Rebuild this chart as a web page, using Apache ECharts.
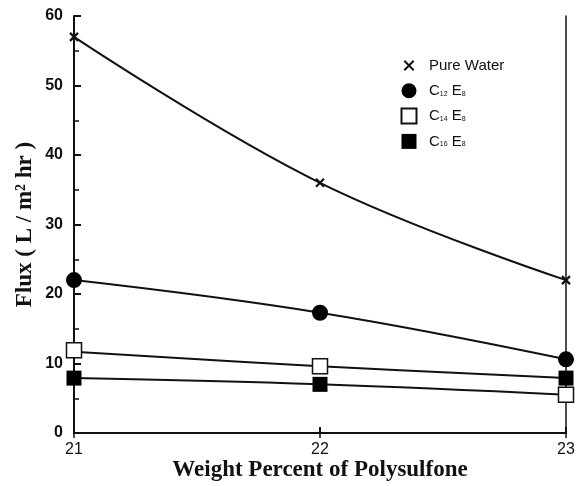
<!DOCTYPE html>
<html>
<head>
<meta charset="utf-8">
<script src="https://cdn.jsdelivr.net/npm/echarts@6/dist/echarts.min.js"></script>
<style>
  html, body { margin: 0; padding: 0; background: #fff; }
  #chart { width: 582px; height: 486px; }
</style>
</head>
<body>
<div id="chart"></div>
<script>
// Weight percent of polysulfone in the casting solution
const weightPercent = [21, 22, 23];

// Measured flux (L / m^2 hr) for each membrane
const pureWater = [57, 36, 22];
const c12e8 = [22, 17.3, 10.6];
const c14e8 = [11.9, 9.6, 5.5];
const c16e8 = [7.9, 7.0, 7.9];

// Fitted trend curves through the measured points
const curvePureWater = [57, 36, 22];
const curveC12 = [22, 17.3, 10.6];
const curveUpper = [11.7, 9.6, 7.9];
const curveLower = [7.9, 7.0, 5.5];

// Axis ticks
const xTicks = [21, 22, 23];
const yTicks = [0, 10, 20, 30, 40, 50, 60];

const pairs = (ys) => weightPercent.map((x, i) => [x, ys[i]]);

const ink = '#111';
const CROSS = 'path://M0,0L10,10M10,0L0,10';
// Legend icons are padded with bare move-to points so they stay small and square
// inside the 30x15 legend slot.
const CROSS_ICON = 'path://M-9,-3M19,13M0,0L10,10M10,0L0,10';
const SQUARE_ICON = 'path://M-5,0M15,10M0,0L10,0L10,10L0,10Z';

const legendLabels = {
  'Pure Water': 'Pure Water',
  'C12E8': '{b|C}{s|12}{b| E}{s|8}',
  'C14E8': '{b|C}{s|14}{b| E}{s|8}',
  'C16E8': '{b|C}{s|16}{b| E}{s|8}'
};

const curve = (data) => ({
  type: 'line',
  data: pairs(data),
  smooth: 0.4,
  showSymbol: false,
  silent: true,
  z: 2,
  lineStyle: { color: ink, width: 2 }
});

const sans = 'Liberation Sans, Arial, sans-serif';
const serif = 'Liberation Serif, Times New Roman, serif';

const chart = echarts.init(document.getElementById('chart'), null, { renderer: 'canvas' });
chart.setOption({
  animation: false,
  backgroundColor: '#fff',
  grid: { left: 74, right: 16, top: 16, bottom: 53, containLabel: false, outerBoundsMode: 'none' },
  legend: {
    orient: 'vertical',
    left: 388,
    top: 52,
    itemWidth: 30,
    itemHeight: 15,
    itemGap: 9.3,
    data: [
      { name: 'Pure Water', icon: CROSS_ICON },
      { name: 'C12E8', icon: 'circle' },
      { name: 'C14E8', icon: SQUARE_ICON },
      { name: 'C16E8', icon: SQUARE_ICON }
    ],
    formatter: (name) => legendLabels[name],
    textStyle: {
      fontFamily: sans,
      fontSize: 15,
      color: ink,
      padding: [0, 0, 0, 0],
      rich: {
        b: { fontFamily: sans, fontSize: 15, color: ink },
        s: { fontFamily: sans, fontSize: 7, color: ink, padding: [6, 0, 0, 0] }
      }
    }
  },
  xAxis: [
    {
      type: 'value',
      min: 21, max: 23, interval: 1,
      name: 'Weight Percent of Polysulfone',
      nameLocation: 'middle',
      nameGap: 26,
      nameMoveOverlap: false,
      nameTextStyle: { fontFamily: serif, fontWeight: 'bold', fontSize: 23, color: ink },
      axisLine: { lineStyle: { color: ink, width: 2 } },
      axisTick: { inside: true, length: 6, lineStyle: { color: ink, width: 2 } },
      axisLabel: {
        margin: 9,
        fontFamily: sans,
        fontSize: 16,
        color: ink,
        formatter: (v) => (xTicks.includes(v) ? String(v) : '')
      },
      splitLine: { show: false }
    },
    {
      type: 'value',
      position: 'top',
      min: 21, max: 23, interval: 1,
      axisLine: { lineStyle: { color: ink, width: 1.5 } },
      axisTick: { inside: true, length: 5, lineStyle: { color: ink, width: 1.5 } },
      axisLabel: { show: false },
      splitLine: { show: false }
    }
  ],
  yAxis: [
    {
      type: 'value',
      min: 0, max: 60, interval: 10,
      name: 'Flux ( L / m\u00B2 hr )',
      nameLocation: 'middle',
      nameGap: 37,
      nameMoveOverlap: false,
      nameTextStyle: { fontFamily: serif, fontWeight: 'bold', fontSize: 23, color: ink },
      axisLine: { lineStyle: { color: ink, width: 2 } },
      axisTick: { inside: true, length: 7, lineStyle: { color: ink, width: 2 } },
      minorTick: { show: true, splitNumber: 2, length: 5, lineStyle: { color: ink, width: 1.5 } },
      axisLabel: {
        margin: 11,
        fontFamily: sans,
        fontWeight: 'bold',
        fontSize: 16,
        color: ink,
        formatter: (v) => (yTicks.includes(v) ? String(v) : '')
      },
      splitLine: { show: false }
    },
    {
      type: 'value',
      position: 'right',
      min: 0, max: 60, interval: 10,
      axisLine: { show: true, lineStyle: { color: ink, width: 1.5 } },
      axisTick: { show: false },
      axisLabel: { show: false },
      splitLine: { show: false }
    }
  ],
  series: [
    curve(curvePureWater),
    curve(curveC12),
    curve(curveUpper),
    curve(curveLower),
    {
      name: 'Pure Water',
      type: 'scatter',
      data: pairs(pureWater),
      symbol: CROSS,
      symbolSize: 8,
      z: 5,
      itemStyle: { color: ink, borderColor: ink, borderWidth: 2.2, opacity: 1 }
    },
    {
      name: 'C12E8',
      type: 'scatter',
      data: pairs(c12e8),
      symbol: 'circle',
      symbolSize: 16,
      z: 5,
      itemStyle: { color: '#000', opacity: 1 }
    },
    {
      name: 'C14E8',
      type: 'scatter',
      data: pairs(c14e8),
      symbol: 'rect',
      symbolSize: 15,
      z: 5,
      itemStyle: { color: '#fff', borderColor: ink, borderWidth: 1.5, opacity: 1 }
    },
    {
      name: 'C16E8',
      type: 'scatter',
      data: pairs(c16e8),
      symbol: 'rect',
      symbolSize: 15,
      z: 5,
      itemStyle: { color: '#000', opacity: 1 }
    }
  ]
});
</script>
</body>
</html>
